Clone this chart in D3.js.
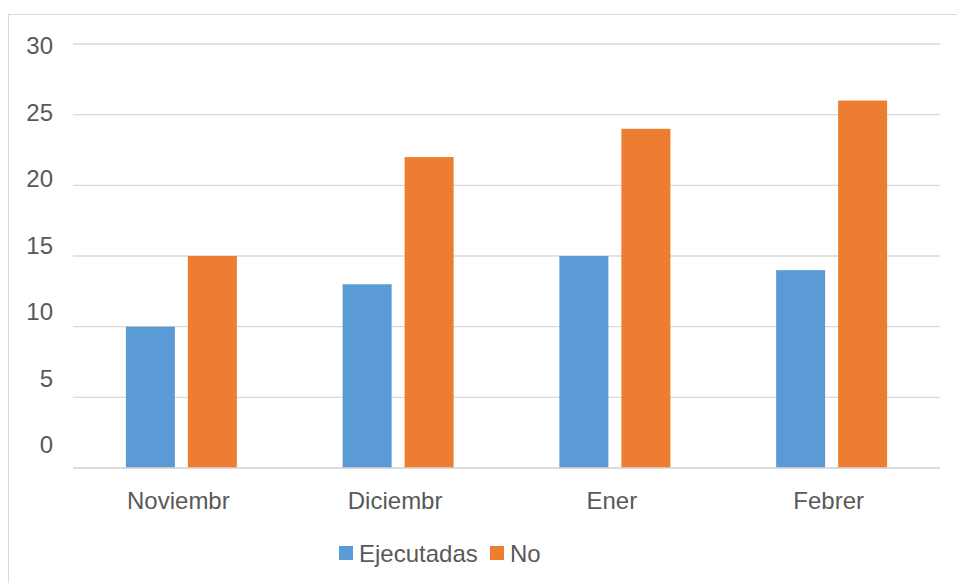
<!DOCTYPE html>
<html><head><meta charset="utf-8">
<script src="https://cdn.jsdelivr.net/npm/d3@7"></script>
<style>html,body{margin:0;padding:0;background:#fff;}svg{display:block;}</style>
</head><body>
<svg id="chart" width="957" height="583"></svg>
<script>
const categories = ["Noviembr", "Diciembr", "Ener", "Febrer"];
const ejecutadas = [10, 13, 15, 14];
const no = [15, 22, 24, 26];
const seriesNames = ["Ejecutadas", "No"];
const yTicks = [0, 5, 10, 15, 20, 25, 30];
const colors = ["#5B9BD5", "#ED7D31"];

(function () {
const svg = d3.select("#chart");
const font = "'Liberation Sans', Arial, sans-serif";
const textColor = "#595959";

// chart border
svg.append("rect").attr("x", 8.5).attr("y", 14.5).attr("width", 1000).attr("height", 700)
  .attr("fill", "#fff").attr("stroke", "#D9D9D9").attr("stroke-width", 1);

const pLeft = 73, pRight = 940, pTop = 44, pBottom = 468;
const x = d3.scaleBand().domain(categories).range([pLeft, pRight]);
const y = d3.scaleLinear().domain([0, 30]).range([pBottom, pTop]);
const yLabel = d3.scaleLinear().domain([0, 30]).range([453, 54]);

// gridlines
svg.append("g").selectAll("line").data(yTicks).join("line")
  .attr("x1", pLeft).attr("x2", pRight)
  .attr("y1", d => y(d)).attr("y2", d => y(d))
  .attr("stroke", "#D9D9D9").attr("stroke-width", 1.3);

// y labels
svg.append("g").selectAll("text").data(yTicks).join("text")
  .attr("x", 53).attr("y", d => yLabel(d))
  .attr("text-anchor", "end").attr("font-family", font).attr("font-size", 24)
  .attr("fill", textColor).text(d => d);

const barW = 49, gap = 13;
const series = [ejecutadas, no];
series.forEach((vals, si) => {
  svg.append("g").selectAll("rect").data(vals).join("rect")
    .attr("x", (d, i) => x(categories[i]) + x.bandwidth() / 2 - (barW + gap / 2) + si * (barW + gap))
    .attr("y", d => y(d))
    .attr("width", barW)
    .attr("height", d => y(0) - y(d))
    .attr("fill", colors[si]);
});

// baseline redraw on top
svg.append("line").attr("x1", pLeft).attr("x2", pRight).attr("y1", y(0)).attr("y2", y(0))
  .attr("stroke", "#D9D9D9").attr("stroke-width", 1.3);

// category labels
svg.append("g").selectAll("text").data(categories).join("text")
  .attr("x", d => x(d) + x.bandwidth() / 2 - 3).attr("y", 509)
  .attr("text-anchor", "middle").attr("font-family", font).attr("font-size", 24)
  .attr("fill", textColor).text(d => d);

// legend
const legendItems = [{x: 339, tx: 359}, {x: 490, tx: 510}];
seriesNames.forEach((name, i) => {
  svg.append("rect").attr("x", legendItems[i].x).attr("y", 546).attr("width", 14).attr("height", 14)
    .attr("fill", colors[i]);
  svg.append("text").attr("x", legendItems[i].tx).attr("y", 562)
    .attr("font-family", font).attr("font-size", 24).attr("fill", textColor).text(name);
});
})();
</script>
</body></html>
